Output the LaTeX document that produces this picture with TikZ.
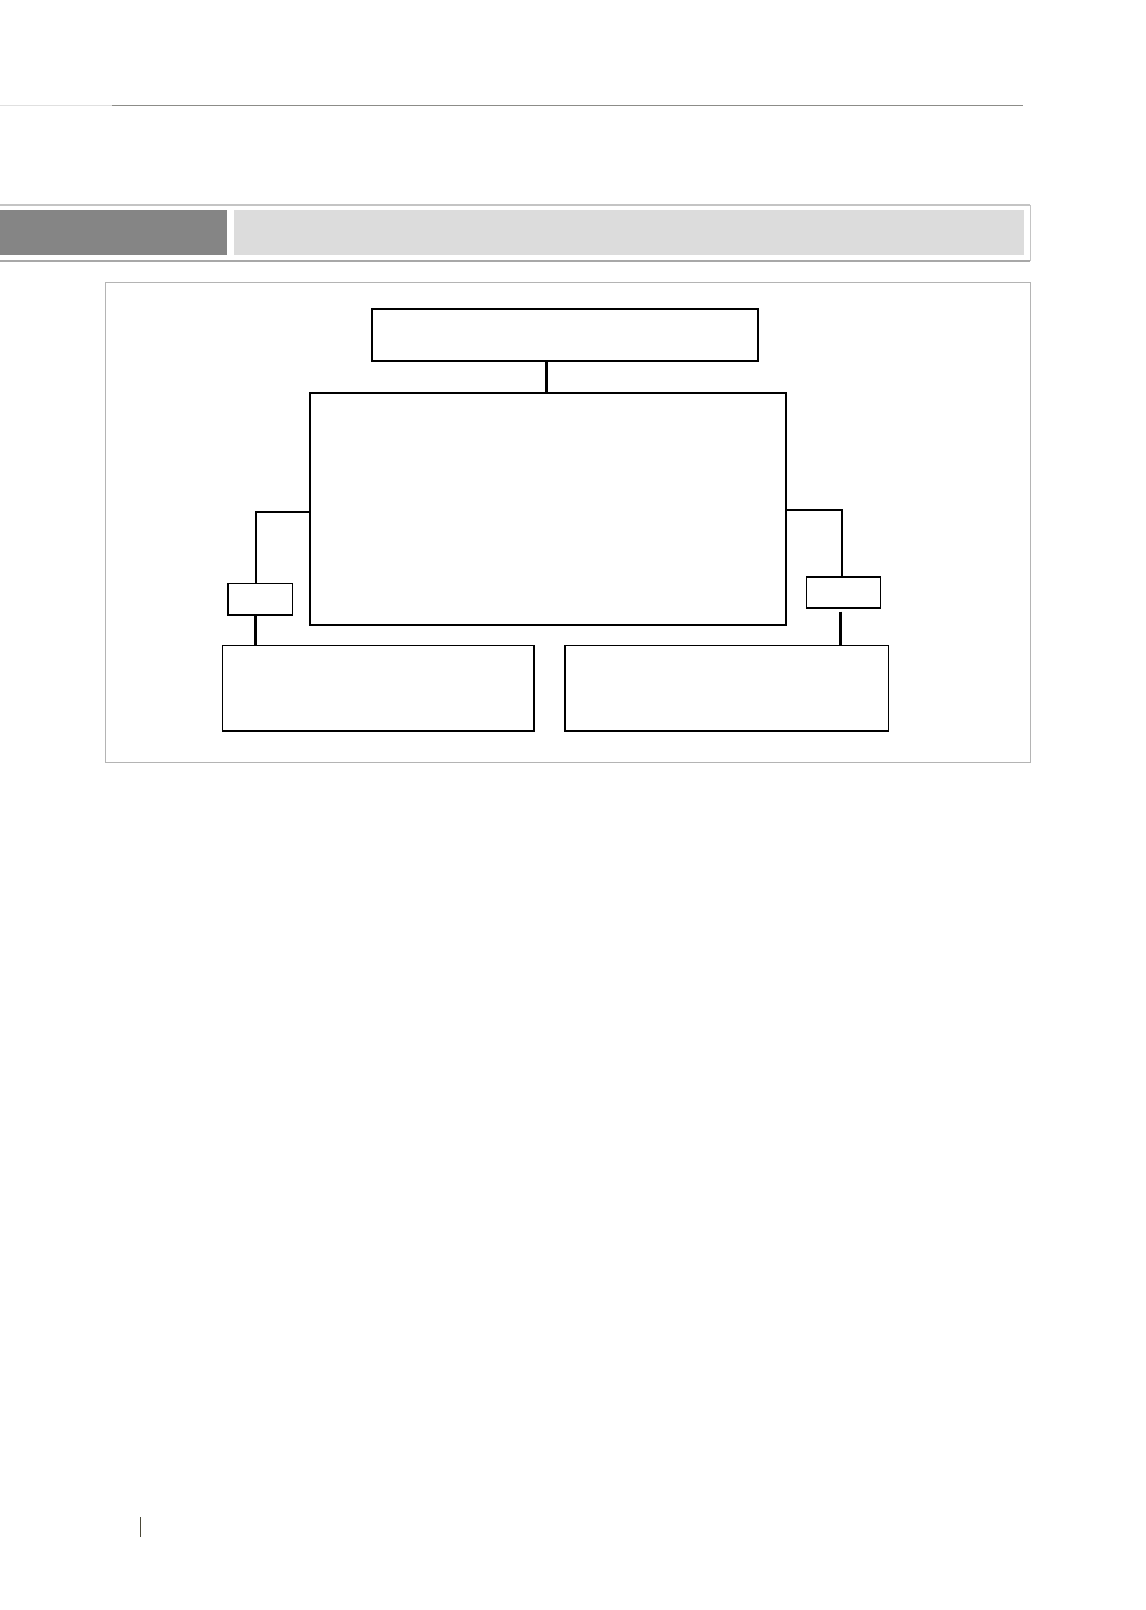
\documentclass[tikz,border=0pt]{standalone}
\usetikzlibrary{calc}
\definecolor{rulegray}{HTML}{8C8C88}
\definecolor{rulelight}{HTML}{E0E0E0}
\definecolor{bandframe}{HTML}{C4C4C4}
\definecolor{bandframedark}{HTML}{A8A8A8}
\definecolor{banddark}{HTML}{858585}
\definecolor{bandlight}{HTML}{DCDCDC}
\definecolor{framegray}{HTML}{B4B4B4}
\definecolor{pagebar}{HTML}{4A4838}
\tikzset{
  x=1pt, y=-1pt,
  boxnode/.style={draw=black, line width=1.9pt, fill=white, rectangle, inner sep=0pt, outer sep=0pt},
  elbow/.style={draw=black, line width=1.7pt},
  stem/.style={draw=black, line width=3pt},
}
\begin{document}
\begin{tikzpicture}
\useasboundingbox[fill=white] (0,0) rectangle (1146,1610);
% top rule
\draw[rulelight, line width=1.8pt] (0,105.5) -- (112,105.5);
\draw[rulegray, line width=1.8pt] (112,105.5) -- (1023,105.5);
% header band
\fill[white] (-2,205) rectangle (1030.3,261);
\draw[bandframe, line width=1.4pt] (-2,205) -- (1030.3,205);
\draw[bandframedark, line width=1.4pt] (-2,261) -- (1030.3,261);
\draw[bandframe, line width=1.2pt] (1030.3,205) -- (1030.3,261);
\fill[banddark] (0,210) rectangle (227,254.5);
\fill[bandlight] (234,210) rectangle (1024,254.5);
% diagram frame
\draw[framegray, line width=1.2pt] (105.7,282.5) rectangle (1030.5,762.5);
% boxes
\node[boxnode, minimum width=386pt, minimum height=52pt] (top) at (565,335) {};
\node[boxnode, minimum width=476pt, minimum height=232pt] (main) at (548,509) {};
\node[boxnode, minimum width=64.5pt, minimum height=31.5pt] (sl) at (260.25,599.25) {};
\node[boxnode, minimum width=74pt, minimum height=31pt] (sr) at (843.5,592.5) {};
\node[boxnode, minimum width=311.5pt, minimum height=85.5pt] (bl) at (378.25,688.25) {};
\node[boxnode, minimum width=323.5pt, minimum height=85.5pt] (br) at (726.75,688.25) {};
% connectors
\coordinate (tj) at (546.5,377);
\draw[stem] (tj |- top.south) -- (tj |- main.north);
\coordinate (lj) at (256,512);
\coordinate (ltick) at (310,515);
\draw[elbow] (main.west |- ltick) -- (main.west |- lj) -- (lj) -- (lj |- sl.north);
\coordinate (lv) at (255,630);
\draw[stem] (lv |- sl.south) -- (lv |- bl.north);
\coordinate (rj) at (842,510);
\coordinate (rtick) at (786,514);
\draw[elbow] (main.east |- rtick) -- (main.east |- rj) -- (rj) -- (rj |- sr.north);
\coordinate (rv) at (840,611.5);
\draw[stem] (rv) -- (rv |- br.north);
% page mark
\draw[pagebar, line width=1.3pt] (140.7,1517) -- (140.7,1537);
\end{tikzpicture}
\end{document}
